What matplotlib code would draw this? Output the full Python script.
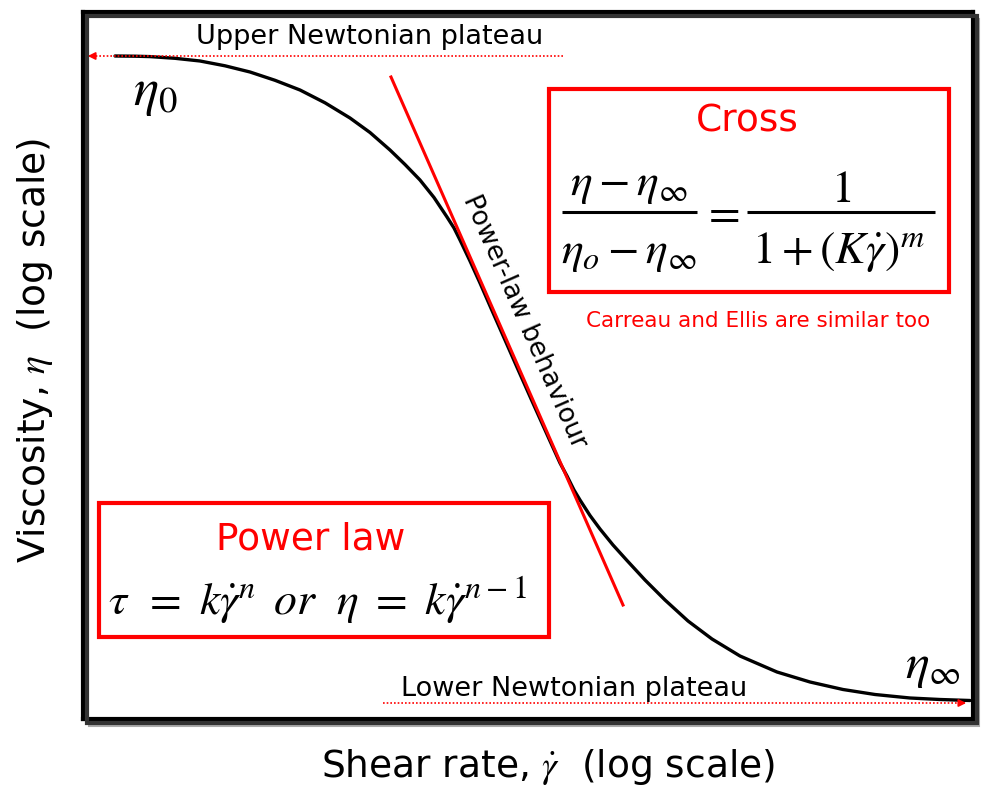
import numpy as np
import matplotlib
matplotlib.use('Agg')
import matplotlib.pyplot as plt
from matplotlib.patches import Rectangle

plt.rcParams['font.family'] = ['DejaVu Sans']
plt.rcParams['mathtext.fontset'] = 'stix'

# Schematic flow curve, arbitrary log units
log_shear = [32, 52, 67, 92, 117, 142, 167, 192, 217, 242, 267, 287, 307, 322, 337, 351,
             364, 371, 377, 387, 397, 409, 422, 435, 449, 467, 477, 484, 491, 497, 507,
             517, 530, 544, 562, 582, 605, 629, 657, 694, 727, 760, 792, 827, 857, 887]
log_visc = [663, 662.8, 662.4, 660.7, 658, 653.2, 647, 638.7, 629, 616.2, 601, 586.5,
            569, 554.5, 539, 521.5, 502, 491, 479, 458, 436, 408.5, 379, 349.5, 318, 278,
            256, 243, 229, 219, 203.5, 190, 174, 158.5, 139, 119, 98, 80, 63, 47, 37,
            29.5, 24.5, 21, 19.5, 18.5]

# power-law tangent
tangent_x = [308, 540]
tangent_y = [642, 114]

# Newtonian plateaus
upper_plateau_x = [480, 2]
upper_plateau_y = 663
lower_plateau_x = [300, 886]
lower_plateau_y = 16

red = '#ff0000'

fig = plt.figure(figsize=(9.87, 7.95), dpi=100)
ax = fig.add_axes([83 / 987, 1 - 719 / 795, 890 / 987, 707 / 795])
ax.set_xlim(0, 890)
ax.set_ylim(0, 707)
ax.set_xticks([])
ax.set_yticks([])
for s in ax.spines.values():
    s.set_linewidth(3.0)
    s.set_color('black')

# frame shadow
fig.patches.append(Rectangle((87 / 987, 1 - 723 / 795), 890 / 987, 707 / 795,
                             transform=fig.transFigure, fill=False,
                             edgecolor='#333333', lw=3.0, zorder=0))
fig.patches.append(Rectangle((89 / 987, 1 - 726 / 795), 890 / 987, 707 / 795,
                             transform=fig.transFigure, fill=False,
                             edgecolor='#aaaaaa', lw=1.5, zorder=-1))

ax.plot(log_shear, log_visc, color='black', lw=2.4, solid_capstyle='round',
        solid_joinstyle='round', zorder=2)
ax.plot(tangent_x, tangent_y, color=red, lw=2.2, zorder=3)

# dotted plateau arrows
ax.plot([upper_plateau_x[0], upper_plateau_x[1] + 7], [upper_plateau_y] * 2,
        color=red, lw=1.2, ls=(0, (1, 1.2)), zorder=4)
ax.annotate('', xy=(upper_plateau_x[1], upper_plateau_y),
            xytext=(upper_plateau_x[1] + 12, upper_plateau_y),
            arrowprops=dict(arrowstyle='-|>', color=red, lw=1.2, mutation_scale=11))
ax.plot([lower_plateau_x[0], lower_plateau_x[1] - 7], [lower_plateau_y] * 2,
        color=red, lw=1.2, ls=(0, (1, 1.2)), zorder=4)
ax.annotate('', xy=(lower_plateau_x[1], lower_plateau_y),
            xytext=(lower_plateau_x[1] - 12, lower_plateau_y),
            arrowprops=dict(arrowstyle='-|>', color=red, lw=1.2, mutation_scale=11))

ax.text(287, 675, 'Upper Newtonian plateau', fontsize=19.5, ha='center', va='baseline')
ax.text(491, 23, 'Lower Newtonian plateau', fontsize=19.5, ha='center', va='baseline')

ax.text(50, 614, r'$\eta_0$', fontsize=38, ha='left', va='baseline')
ax.text(822, 41, r'$\eta_\infty$', fontsize=36, ha='left', va='baseline')

ax.text(441, 397, 'Power-law behaviour', fontsize=19, rotation=-66.3,
        rotation_mode='anchor', ha='center', va='center')

# Cross box
ax.add_patch(Rectangle((466, 427), 400, 203, fill=False, edgecolor=red, lw=3.0, zorder=5))
ax.text(664, 588, 'Cross', fontsize=27, color=red, ha='center', va='baseline')
fs = 33
ax.text(546, 524, r'$\eta-\eta_{\infty}$', fontsize=fs, ha='center', va='baseline')
ax.text(546, 456, r'$\eta_{o}-\eta_{\infty}$', fontsize=fs, ha='center', va='baseline')
ax.plot([479, 614], [507, 507], color='black', lw=2.2, solid_capstyle='butt')
ax.text(638, 507, r'$=$', fontsize=fs, ha='center', va='center')
ax.plot([664, 852], [507, 507], color='black', lw=2.2, solid_capstyle='butt')
ax.text(758, 517, r'$1$', fontsize=fs, ha='center', va='baseline')
ax.text(755, 456, r'$1+(K\dot{\gamma})^{m}$', fontsize=fs, ha='center', va='baseline')
ax.text(675, 398, 'Carreau and Ellis are similar too', fontsize=15.5, color=red,
        ha='center', va='center')

# Power law box
ax.add_patch(Rectangle((16, 82), 450, 134, fill=False, edgecolor=red, lw=3.0, zorder=5))
ax.text(228, 170, 'Power law', fontsize=27, color=red, ha='center', va='baseline')
ax.text(234, 119, r'$\tau\ \,=\ k\dot{\gamma}^{n}\ \,or\ \ \eta\ =\ k\dot{\gamma}^{n-1}$',
        fontsize=33, ha='center', va='center')

fig.text(548 / 987, 1 - 767 / 795, r'Shear rate, $\dot{\gamma}$  (log scale)',
         fontsize=27, ha='center', va='center')
fig.text(35 / 987, 1 - 350 / 795, r'Viscosity, $\eta$  (log scale)',
         fontsize=27, ha='center', va='center', rotation=90)

fig.savefig('out.png', dpi=100)
